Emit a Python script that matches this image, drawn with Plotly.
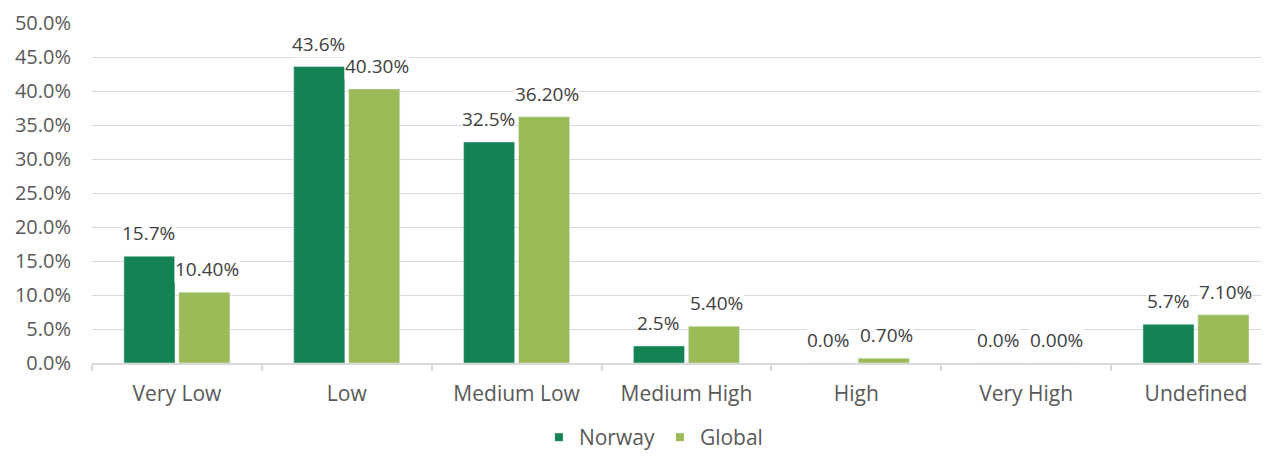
import plotly.graph_objects as go

categories = ["Very Low", "Low", "Medium Low", "Medium High", "High", "Very High", "Undefined"]
norway = [15.7, 43.6, 32.5, 2.5, 0.0, 0.0, 5.7]
global_vals = [10.4, 40.3, 36.2, 5.4, 0.7, 0.0, 7.1]
series_names = ["Norway", "Global"]
y_ticks = [0, 5, 10, 15, 20, 25, 30, 35, 40, 45, 50]

DARK = "#138353"
LIGHT = "#9BBB59"
FONT = "Open Sans"

fig = go.Figure()
fig.add_trace(go.Bar(x=categories, y=norway, marker_color=DARK, name=series_names[0],
                     showlegend=False, hoverinfo="skip"))
fig.add_trace(go.Bar(x=categories, y=global_vals, marker_color=LIGHT, name=series_names[1],
                     showlegend=False, hoverinfo="skip"))

# legend proxies (small squares)
for nm, col in zip(series_names, [DARK, LIGHT]):
    fig.add_trace(go.Scatter(x=[None], y=[None], mode="markers", name=nm,
                             marker=dict(symbol="square", size=8, color=col)))

annotations = []
for cat, v in zip(categories, norway):
    annotations.append(dict(x=cat, y=v, xref="x", yref="y", text=f"{v:.1f}%",
                            showarrow=False, xshift=-28, yshift=23, yanchor="middle",
                            bgcolor="white", borderpad=0,
                            font=dict(family=FONT, size=19, color="#404040")))
for cat, v in zip(categories, global_vals):
    annotations.append(dict(x=cat, y=v, xref="x", yref="y", text=f"{v:.2f}%",
                            showarrow=False, xshift=30, yshift=23, yanchor="middle",
                            bgcolor="white", borderpad=0,
                            font=dict(family=FONT, size=19, color="#404040")))

# page body has an 8px default margin: figure is offset to compensate
fig.update_layout(
    width=1261, height=456, autosize=False,
    margin=dict(l=84, r=0, t=15, b=101),
    paper_bgcolor="white", plot_bgcolor="white",
    barmode="group", bargap=0.353, bargroupgap=0.07,
    font=dict(family=FONT, size=20, color="#595959"),
    annotations=annotations,
    legend=dict(orientation="h", x=0.477, xanchor="center",
                yref="container", y=0.058, yanchor="middle",
                font=dict(family=FONT, size=21, color="#595959"),
                itemwidth=30, tracegroupgap=0),
)
fig.update_xaxes(
    range=[-0.5, 6.43], type="category", automargin=False,
    showgrid=False, showline=True, linecolor="#D9D9D9", linewidth=1.5,
    ticks="outside", tickson="boundaries", ticklen=6, tickcolor="#D9D9D9", tickwidth=1.5,
    tickfont=dict(family=FONT, size=21, color="#595959"), ticklabelstandoff=11,
    zeroline=False,
)
fig.update_yaxes(
    range=[0, 50], tickmode="array", tickvals=y_ticks,
    ticktext=[f"{v:.1f}%" for v in y_ticks], automargin=False,
    showgrid=True, gridcolor="#D9D9D9", gridwidth=1.3,
    showline=False, zeroline=False, ticks="",
    tickfont=dict(family=FONT, size=20, color="#595959"), ticklabelstandoff=20,
)

fig.write_html("out.html")
